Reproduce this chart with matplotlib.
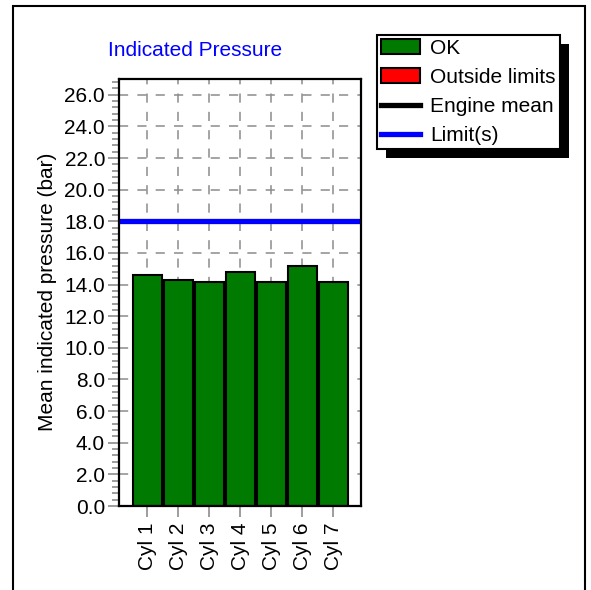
import matplotlib
matplotlib.use("Agg")
import matplotlib.pyplot as plt
import numpy as np
from matplotlib.lines import Line2D
from matplotlib.patches import Patch, Rectangle
from matplotlib.ticker import MultipleLocator, FormatStrFormatter

plt.rcParams["font.family"] = ["Liberation Sans", "DejaVu Sans"]

cylinders = ["Cyl 1", "Cyl 2", "Cyl 3", "Cyl 4", "Cyl 5", "Cyl 6", "Cyl 7"]
pressure = [14.58, 14.30, 14.16, 14.81, 14.16, 15.19, 14.16]
limit = 18.0

GREEN = "#007a00"
GRID = "#8c8c8c"
W, H = 591, 590

fig = plt.figure(figsize=(W / 100, H / 100), dpi=100)
ax = fig.add_axes([119 / W, 1 - 506 / H, (361 - 119) / W, (506 - 79) / H])

x = np.arange(len(cylinders))
ax.bar(x, pressure, width=0.935, color=GREEN, edgecolor="black", linewidth=1.5, zorder=2)
ax.axhline(limit, color="#0000ff", linewidth=3.8, zorder=3)

ax.set_xlim(-0.91, 6.9)
ax.set_ylim(0, 27)
ax.set_xticks(x)
ax.set_xticklabels(cylinders, rotation=90, fontsize=15)
ax.yaxis.set_major_locator(MultipleLocator(2))
ax.yaxis.set_minor_locator(MultipleLocator(0.4))
ax.yaxis.set_major_formatter(FormatStrFormatter("%.1f"))
ax.tick_params(axis="y", which="major", labelsize=15, length=8, color=GRID, width=1.2, pad=2)
ax.tick_params(axis="y", which="minor", length=5, color=GRID, width=1.2)
ax.tick_params(axis="x", length=8, color=GRID, width=1.2, pad=4)

ax.grid(True, which="major", color=GRID, linestyle=(0, (6, 6)), linewidth=1.1, zorder=0)
ax.set_axisbelow(True)
for s in ax.spines.values():
    s.set_linewidth(1.6)
    s.set_color("black")
    s.set_zorder(4)

fig.text(195 / W, 1 - 50 / H, "Indicated Pressure", color="#0000ff", fontsize=15,
         ha="center", va="center")
fig.text(48 / W, 1 - 292 / H, "Mean indicated pressure (bar)", rotation=90,
         fontsize=15, ha="center", va="center")

handles = [
    Patch(facecolor=GREEN, edgecolor="black", linewidth=1.5, label="OK"),
    Patch(facecolor="#ff0000", edgecolor="black", linewidth=1.5, label="Outside limits"),
    Line2D([], [], color="black", linewidth=3.8, label="Engine mean"),
    Line2D([], [], color="#0000ff", linewidth=3.8, label="Limit(s)"),
]
leg = fig.legend(handles=handles, loc="upper left", bbox_to_anchor=(377 / W, 1 - 35 / H),
                 borderaxespad=0, fontsize=15, frameon=True, fancybox=False,
                 framealpha=1, edgecolor="black", handlelength=1.85, handleheight=0.72,
                 handletextpad=0.5, borderpad=0.2, labelspacing=0.48)
leg.get_frame().set_linewidth(1.5)
leg.set_zorder(5)

# black drop shadow behind the legend box
fig.canvas.draw()
bb = leg.get_window_extent()
off = 9
shadow = Rectangle((bb.x0 + off, bb.y0 - off), bb.width, bb.height, transform=None,
                   facecolor="black", edgecolor="none", zorder=4)
fig.patches.append(shadow)

# outer frame
fig.patches.append(Rectangle((13 / W, -0.05), (585 - 13) / W, 1.05 - 6 / H,
                             transform=fig.transFigure, fill=False,
                             edgecolor="black", linewidth=1.5))

fig.savefig("out.png", dpi=100, facecolor="white")
